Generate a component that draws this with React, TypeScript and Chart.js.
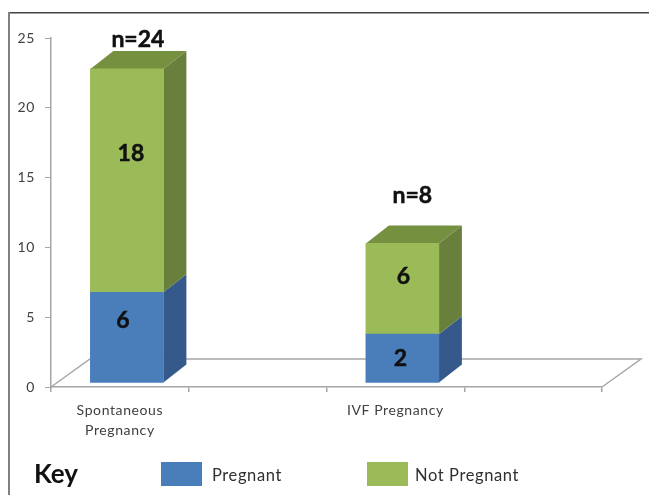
import React, { useEffect, useRef } from "react";
import { Chart, registerables } from "chart.js";

Chart.register(...registerables);

const categories = [["Spontaneous", "Pregnancy"], "", "IVF Pregnancy", ""];
const pregnantHeights = [6.5, null, 3.5, null];
const notPregnantHeights = [16, null, 6.5, null];
const pregnantLabels = ["6", null, "2", null];
const notPregnantLabels = ["18", null, "6", null];
const totalLabels = ["n=24", null, "n=8", null];
const yTicks = [0, 5, 10, 15, 20, 25];

const BLUE = "#4a7ebb";
const BLUE_SIDE = "#34598a";
const GREEN = "#9bbb59";
const GREEN_SIDE = "#697f3c";
const GREEN_TOP = "#75903f";
const AXIS = "#a6a6a6";
const TEXT = "#404040";
const FONT = "Lato";

const BAR_SHIFT = { x: 7, y: -4 };
const BAR_DEPTH = { x: 23, y: -18 };
const FLOOR_DEPTH = { x: 39, y: -28 };
const SERIES_LABEL_OFFSET = [
  [[-4, -17], null, [-2, 0], null],
  [[4, -27], null, [1, -12], null],
];
const TOTAL_OFFSET = [[11, -29], null, [10, -48], null];

const face = (ctx: any, pts: number[][], fill: string) => {
  ctx.beginPath();
  pts.forEach((p, i) => (i ? ctx.lineTo(p[0], p[1]) : ctx.moveTo(p[0], p[1])));
  ctx.closePath();
  ctx.fillStyle = fill;
  ctx.fill();
};

const bold = (ctx: any, text: string, x: number, y: number, size = 23) => {
  ctx.font = `bold ${size}px ${FONT}`;
  ctx.fillStyle = "#111111";
  ctx.strokeStyle = "#111111";
  ctx.lineWidth = 0.5;
  ctx.textAlign = "center";
  ctx.textBaseline = "middle";
  ctx.fillText(text, x, y);
  ctx.strokeText(text, x, y);
};

const plugin3d = {
  id: "bars3d",
  beforeDraw(chart: any) {
    const { ctx, width, height } = chart;
    ctx.save();
    ctx.fillStyle = "#ffffff";
    ctx.fillRect(0, 0, width, height);
    ctx.fillStyle = "#444444";
    ctx.fillRect(8, 12, width - 8, 1.5);
    ctx.fillStyle = "#808080";
    ctx.fillRect(8, 12, 2, height - 12);
    ctx.restore();
    ctx.letterSpacing = "0.6px";
  },
  beforeDatasetsDraw(chart: any) {
    const { ctx, chartArea: a } = chart;
    ctx.letterSpacing = "0px";
    ctx.save();
    ctx.strokeStyle = AXIS;
    ctx.lineWidth = 1.5;
    ctx.beginPath();
    ctx.moveTo(a.left, a.bottom);
    ctx.lineTo(a.left + FLOOR_DEPTH.x, a.bottom + FLOOR_DEPTH.y);
    ctx.lineTo(a.right + FLOOR_DEPTH.x, a.bottom + FLOOR_DEPTH.y);
    ctx.lineTo(a.right, a.bottom);
    ctx.stroke();
    ctx.restore();

    ctx.save();
    ctx.translate(BAR_SHIFT.x, BAR_SHIFT.y);
    const d = BAR_DEPTH;
    chart.data.datasets.forEach((ds: any, di: number) => {
      chart.getDatasetMeta(di).data.forEach((el: any, i: number) => {
        if (ds.data[i] == null) return;
        const r = el.x + el.width / 2;
        const l = el.x - el.width / 2;
        face(ctx, [[r, el.y], [r + d.x, el.y + d.y], [r + d.x, el.base + d.y], [r, el.base]], di === 0 ? BLUE_SIDE : GREEN_SIDE);
        if (di === chart.data.datasets.length - 1) {
          face(ctx, [[l, el.y], [l + d.x, el.y + d.y], [r + d.x, el.y + d.y], [r, el.y]], GREEN_TOP);
        }
      });
    });
  },
  afterDatasetsDraw(chart: any) {
    const { ctx } = chart;
    const seriesLabels = [pregnantLabels, notPregnantLabels];
    chart.data.datasets.forEach((ds: any, di: number) => {
      chart.getDatasetMeta(di).data.forEach((el: any, i: number) => {
        const text = seriesLabels[di][i];
        const off = SERIES_LABEL_OFFSET[di][i];
        if (ds.data[i] == null || !text || !off) return;
        bold(ctx, text, el.x + off[0], (el.y + el.base) / 2 + off[1]);
        const total = totalLabels[i];
        const tOff = TOTAL_OFFSET[i];
        if (di === 1 && total && tOff) bold(ctx, total, el.x + tOff[0], el.y + tOff[1]);
      });
    });
    ctx.restore();

    // Key
    ctx.save();
    ctx.textBaseline = "middle";
    ctx.textAlign = "left";
    ctx.font = `bold 26px ${FONT}`;
    ctx.fillStyle = "#111111";
    ctx.fillText("Key", 34, 475);
    const keyX = [161, 367];
    chart.data.datasets.forEach((ds: any, di: number) => {
      ctx.fillStyle = ds.backgroundColor;
      ctx.fillRect(keyX[di], 462, 41, 24);
      ctx.fillStyle = "#303030";
      ctx.font = `16.5px ${FONT}`;
      ctx.letterSpacing = "0.6px";
      ctx.fillText(ds.label, keyX[di] + (di === 0 ? 51 : 48), 476);
      ctx.letterSpacing = "0px";
    });
    ctx.restore();
  },
};

export default function App() {
  const ref = useRef<HTMLCanvasElement>(null);
  useEffect(() => {
    document.body.style.margin = "0";
    const chart = new Chart(ref.current!, {
      type: "bar",
      data: {
        labels: categories,
        datasets: [
          { label: "Pregnant", data: pregnantHeights, backgroundColor: BLUE, barThickness: 73, clip: false },
          { label: "Not Pregnant", data: notPregnantHeights, backgroundColor: GREEN, barThickness: 73, clip: false },
        ],
      } as any,
      options: {
        responsive: false,
        animation: false,
        events: [],
        layout: { padding: { top: 38, right: 47, left: 0, bottom: 0 } },
        plugins: { legend: { display: false }, tooltip: { enabled: false }, title: { display: false } },
        scales: {
          x: {
            stacked: true,
            afterFit: (s: any) => { s.height = 108; },
            border: { color: AXIS, width: 1.5 },
            grid: { drawOnChartArea: false, color: AXIS, tickLength: 5, lineWidth: 1.5, offset: true },
            ticks: {
              autoSkip: false,
              maxRotation: 0,
              minRotation: 0,
              padding: 8,
              color: TEXT,
              font: { family: FONT, size: 14, lineHeight: 1.43 },
            },
          },
          y: {
            stacked: true,
            min: 0,
            max: 25,
            afterFit: (s: any) => { s.width = 51; },
            afterBuildTicks: (s: any) => { s.ticks = yTicks.map((value) => ({ value })); },
            border: { color: AXIS, width: 1.5 },
            grid: { drawOnChartArea: false, color: AXIS, tickLength: 6, lineWidth: 1 },
            ticks: { padding: 10, color: TEXT, font: { family: FONT, size: 14 } },
          },
        },
      },
      plugins: [plugin3d],
    } as any);
    return () => chart.destroy();
  }, []);
  return (
    <div style={{ position: "absolute", left: 0, top: 0, width: 649, height: 495 }}>
      <canvas ref={ref} width={649} height={495} style={{ display: "block", filter: "blur(0.4px)" }} />
    </div>
  );
}
